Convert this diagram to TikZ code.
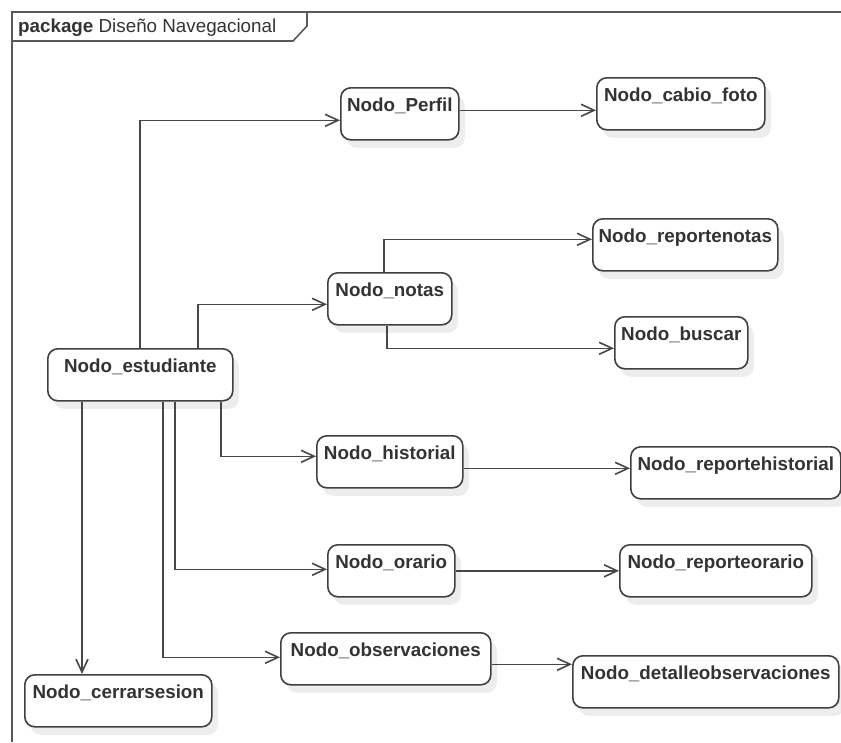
\documentclass[tikz,border=0pt]{standalone}
\usepackage{fontspec}
\setmainfont{Liberation Sans}
\usetikzlibrary{arrows.meta,shadows}

\begin{document}
\begin{tikzpicture}
  [ x=1pt, y=-1pt,
    every node/.style={text=black!80}]
  \tikzset{
    nodo/.style={
      draw=black!75, line width=1.6pt,
      rounded corners=10pt,
      fill=white,
      anchor=north west,
      inner xsep=3pt, inner ysep=4pt,
      text height=20pt, text depth=24pt,
      minimum width=#1,
      font=\bfseries\fontsize{18.8}{22}\selectfont,
      drop shadow={shadow xshift=6pt, shadow yshift=-8pt, fill=black!7, opacity=1},
    },
    flecha/.style={-{Straight Barb[length=13pt,width=12pt]}, draw=black!72, line width=1.6pt},
    marco/.style={draw=black!65, line width=2.2pt},
  }

  \useasboundingbox (0,0) rectangle (841,742);

  % marco del paquete
  \draw[marco] (12,742) -- (12,12) -- (841,12);
  \draw[marco, line width=1.6pt] (12,41) -- (293,41) -- (307,26) -- (307,12);
  \node[anchor=base west, inner sep=0, font=\fontsize{18.8}{22}\selectfont] (titulo) at (18,32)
    {\textbf{package} Diseño Navegacional};

  \node[nodo=185] (estudiante) at (47,348)  {Nodo\_estudiante};
  \node[nodo=118] (perfil)     at (340,87)  {Nodo\_Perfil};
  \node[nodo=168] (cabiofoto)  at (596,77)  {Nodo\_cabio\_foto};
  \node[nodo=124] (notas)      at (327,272) {Nodo\_notas};
  \node[nodo=185] (repnotas)   at (592,218) {Nodo\_reportenotas};
  \node[nodo=133] (buscar)     at (614,316) {Nodo\_buscar};
  \node[nodo=146] (historial)  at (316,435) {Nodo\_historial};
  \node[nodo=210] (rephist)    at (630,446) {Nodo\_reportehistorial};
  \node[nodo=127] (orario)     at (327,544) {Nodo\_orario};
  \node[nodo=192] (reporario)  at (619,544) {Nodo\_reporteorario};
  \node[nodo=210] (observ)     at (280,632) {Nodo\_observaciones};
  \node[nodo=266] (detobserv)  at (572,655) {Nodo\_detalleobservaciones};
  \node[nodo=187] (cerrar)     at (24,674)  {Nodo\_cerrarsesion};

  \draw[flecha] ([xshift=93pt]estudiante.north west) |- ([yshift=-6.5pt]perfil.west);
  \draw[flecha] ([xshift=151pt]estudiante.north west) |- ([yshift=-5.5pt]notas.west);
  \draw[flecha] ([xshift=174pt]estudiante.south west) |- ([yshift=5.5pt]historial.west);
  \draw[flecha] ([xshift=128pt]estudiante.south west) |- ([yshift=1.5pt]orario.west);
  \draw[flecha] ([xshift=116pt]estudiante.south west) |- ([yshift=1.5pt]observ.west);
  \draw[flecha] ([xshift=35pt]estudiante.south west) -- ([xshift=35pt]estudiante.south west |- cerrar.north);

  \draw[flecha] ([yshift=3.5pt]perfil.east) -- ([yshift=3.5pt]perfil.east -| cabiofoto.west);
  \draw[flecha] ([xshift=57pt]notas.north west) |- ([yshift=5.5pt]repnotas.west);
  \draw[flecha] ([xshift=60pt]notas.south west) |- ([yshift=-5.5pt]buscar.west);
  \draw[flecha] ([yshift=-6.5pt]historial.east) -- ([yshift=-6.5pt]historial.east -| rephist.west);
  \draw[flecha] (orario.east) -- (orario.east -| reporario.west);
  \draw[flecha] ([yshift=-5.5pt]observ.east) -- ([yshift=-5.5pt]observ.east -| detobserv.west);
\end{tikzpicture}
\end{document}
